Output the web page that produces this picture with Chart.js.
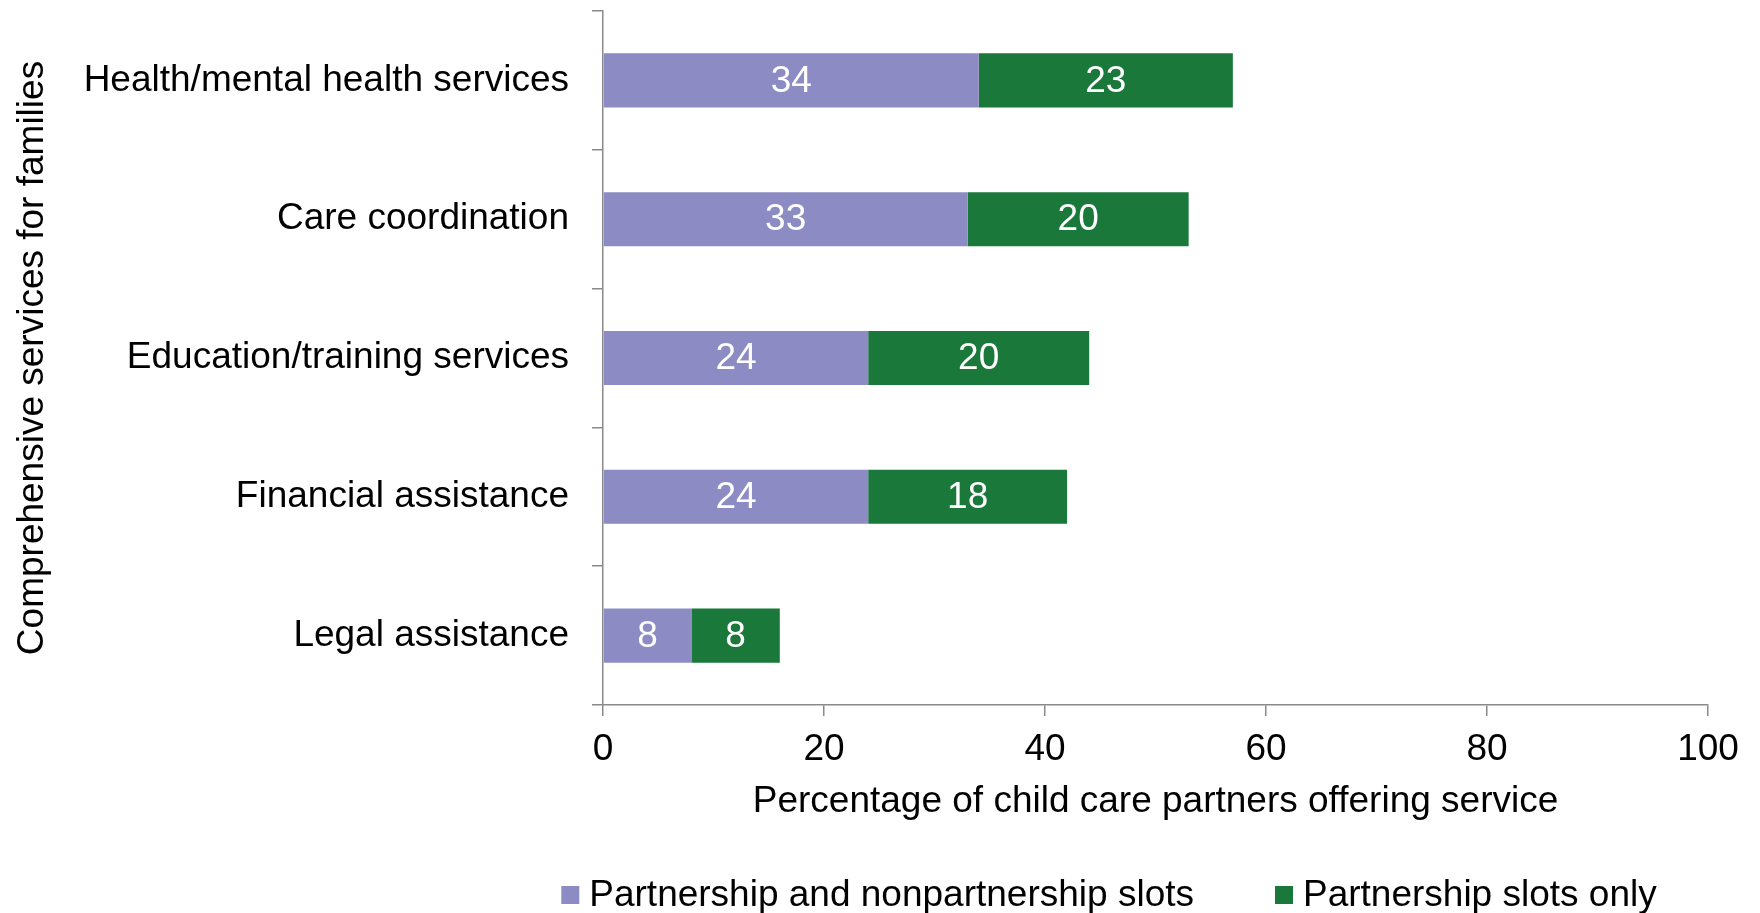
<!DOCTYPE html>
<html>
<head>
<meta charset="utf-8">
<script src="https://cdn.jsdelivr.net/npm/chart.js@4/dist/chart.umd.min.js"></script>
<style>
  html, body { margin: 0; padding: 0; background: #fff; }
  #wrap { width: 1760px; height: 913px; position: relative; }
</style>
</head>
<body>
<div id="wrap"><canvas id="c"></canvas></div>
<script>
// Services offered to families, top to bottom
const categories = [
  'Health/mental health services',
  'Care coordination',
  'Education/training services',
  'Financial assistance',
  'Legal assistance'
];
const seriesNames = ['Partnership and nonpartnership slots', 'Partnership slots only'];
const bothSlots = [34, 33, 24, 24, 8];
const partnershipOnly = [23, 20, 20, 18, 8];
const xTicks = [0, 20, 40, 60, 80, 100];

const FONT = '"Liberation Sans", Arial, sans-serif';
const SIZE = 37;
const AXIS_GREY = '#8a8a8a';
const PURPLE = '#8d8bc3';
const GREEN = '#19783a';

// White value labels centred in each bar segment
const valueLabels = {
  id: 'valueLabels',
  afterDatasetsDraw(chart) {
    const ctx = chart.ctx;
    ctx.save();
    ctx.font = SIZE + 'px ' + FONT;
    ctx.fillStyle = '#ffffff';
    ctx.textAlign = 'center';
    ctx.textBaseline = 'middle';
    chart.data.datasets.forEach((ds, i) => {
      chart.getDatasetMeta(i).data.forEach((bar, j) => {
        const p = bar.getCenterPoint();
        ctx.fillText(String(ds.data[j]), p.x, p.y + 1);
      });
    });
    ctx.restore();
  }
};

// Legend row under the axis title
const bottomLegend = {
  id: 'bottomLegend',
  afterDraw(chart) {
    const ctx = chart.ctx;
    ctx.save();
    ctx.font = SIZE + 'px ' + FONT;
    ctx.textBaseline = 'middle';
    ctx.textAlign = 'left';
    const box = 18, textGap = 10, itemGap = 81;
    const items = chart.data.datasets.map(ds => ({
      label: ds.label, color: ds.backgroundColor, w: ctx.measureText(ds.label).width
    }));
    const total = items.reduce((s, it) => s + box + textGap + it.w, 0) + itemGap * (items.length - 1);
    let x = 1109 - total / 2;
    const cy = 895;
    items.forEach(it => {
      ctx.fillStyle = it.color;
      ctx.fillRect(x, cy - box / 2, box, box);
      ctx.fillStyle = '#000';
      ctx.fillText(it.label, x + box + textGap, cy + 1);
      x += box + textGap + it.w + itemGap;
    });
    ctx.restore();
  }
};

new Chart(document.getElementById('c'), {
  type: 'bar',
  data: {
    labels: categories,
    datasets: [
      { label: seriesNames[0], data: bothSlots, backgroundColor: PURPLE, borderWidth: 0 },
      { label: seriesNames[1], data: partnershipOnly, backgroundColor: GREEN, borderWidth: 0 }
    ]
  },
  options: {
    indexAxis: 'y',
    responsive: true,
    maintainAspectRatio: false,
    animation: false,
    layout: { padding: { top: 11, right: 52, bottom: 0, left: 0 } },
    datasets: { bar: { categoryPercentage: 1, barPercentage: 0.39 } },
    plugins: {
      legend: { display: false },
      tooltip: { enabled: false }
    },
    scales: {
      x: {
        stacked: true,
        min: 0, max: 100,
        afterBuildTicks(scale) { scale.ticks = xTicks.map(v => ({ value: v })); },
        afterFit(scale) { scale.height = 208; },
        ticks: {
          color: '#000', font: { family: FONT, size: SIZE }, padding: 12,
          callback: v => String(v)
        },
        grid: { drawOnChartArea: false, drawTicks: true, tickLength: 11, color: AXIS_GREY, lineWidth: 1.5 },
        border: { color: AXIS_GREY, width: 1.5 },
        title: {
          display: true,
          text: 'Percentage of child care partners offering service',
          color: '#000', font: { family: FONT, size: SIZE },
          padding: { top: 0, bottom: 89 }
        }
      },
      y: {
        stacked: true,
        afterFit(scale) {
          scale.width = 603;
          scale.paddingTop = 0;
          scale.paddingBottom = 0;
        },
        ticks: { color: '#000', font: { family: FONT, size: SIZE }, padding: 23 },
        grid: { drawOnChartArea: false, drawTicks: true, tickLength: 11, color: AXIS_GREY, lineWidth: 1.5, offset: true },
        border: { color: AXIS_GREY, width: 1.5 },
        title: {
          display: true,
          text: 'Comprehensive services for families',
          color: '#000', font: { family: FONT, size: SIZE },
          padding: { top: 11, bottom: 0 }
        }
      }
    }
  },
  plugins: [valueLabels, bottomLegend]
});
</script>
</body>
</html>
